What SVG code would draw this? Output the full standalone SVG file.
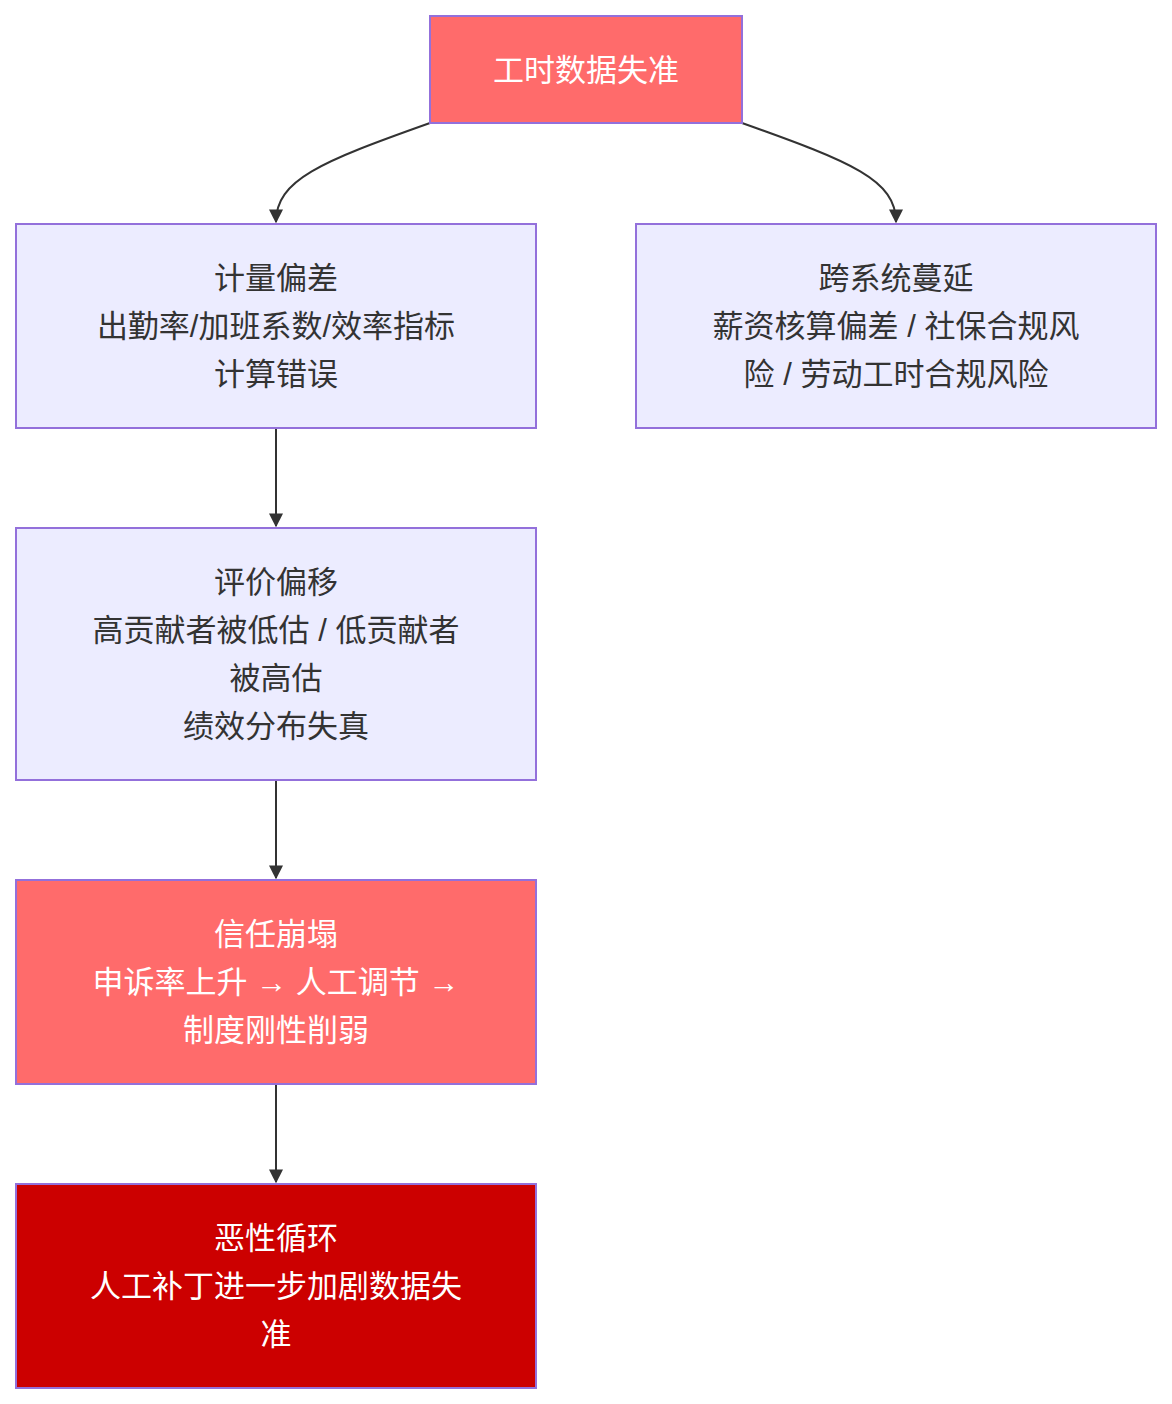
<svg xmlns="http://www.w3.org/2000/svg" width="1172" height="1404" viewBox="0 0 1172 1404">
<style>
text{font-family:"Liberation Sans","Noto Sans CJK SC",sans-serif;font-size:31px;text-anchor:middle;dominant-baseline:central;fill:#333}
.w text{fill:#fff}
.n rect{fill:#ececff;stroke:#9370db;stroke-width:2}
.r rect{fill:#ff6b6b}
.d rect{fill:#cc0000}
.e{fill:none;stroke:#333;stroke-width:2;marker-end:url(#a)}
</style>
<defs><marker id="a" viewBox="0 0 10 10" refX="9" refY="5" markerWidth="7" markerHeight="7" orient="auto"><path d="M0,0L10,5L0,10z" fill="#333"/></marker></defs>
<rect width="1172" height="1404" fill="#fff"/>
<g id="edges">
<path class="e" d="M430,123 C320,162 276,180 276,222"/>
<path class="e" d="M742,123 C852,162 896,180 896,222"/>
<path class="e" d="M276,428 L276,526"/>
<path class="e" d="M276,780 L276,878"/>
<path class="e" d="M276,1084 L276,1182"/>
</g>
<g id="top" class="n r w"><rect x="430" y="16" width="312" height="107"/><text x="586" y="70">工时数据失准</text></g>
<g id="a" class="n"><rect x="16" y="224" width="520" height="204"/><text x="276" y="278">计量偏差</text><text x="276" y="326">出勤率/加班系数/效率指标</text><text x="276" y="374">计算错误</text></g>
<g id="b" class="n"><rect x="636" y="224" width="520" height="204"/><text x="896" y="278">跨系统蔓延</text><text x="896" y="326">薪资核算偏差 / 社保合规风</text><text x="896" y="374">险 / 劳动工时合规风险</text></g>
<g id="c" class="n"><rect x="16" y="528" width="520" height="252"/><text x="276" y="582">评价偏移</text><text x="276" y="630">高贡献者被低估 / 低贡献者</text><text x="276" y="678">被高估</text><text x="276" y="726">绩效分布失真</text></g>
<g id="d" class="n r w"><rect x="16" y="880" width="520" height="204"/><text x="276" y="934">信任崩塌</text><text x="276" y="982">申诉率上升 → 人工调节 →</text><text x="276" y="1030">制度刚性削弱</text></g>
<g id="e" class="n d w"><rect x="16" y="1184" width="520" height="204"/><text x="276" y="1238">恶性循环</text><text x="276" y="1286">人工补丁进一步加剧数据失</text><text x="276" y="1334">准</text></g>
</svg>
